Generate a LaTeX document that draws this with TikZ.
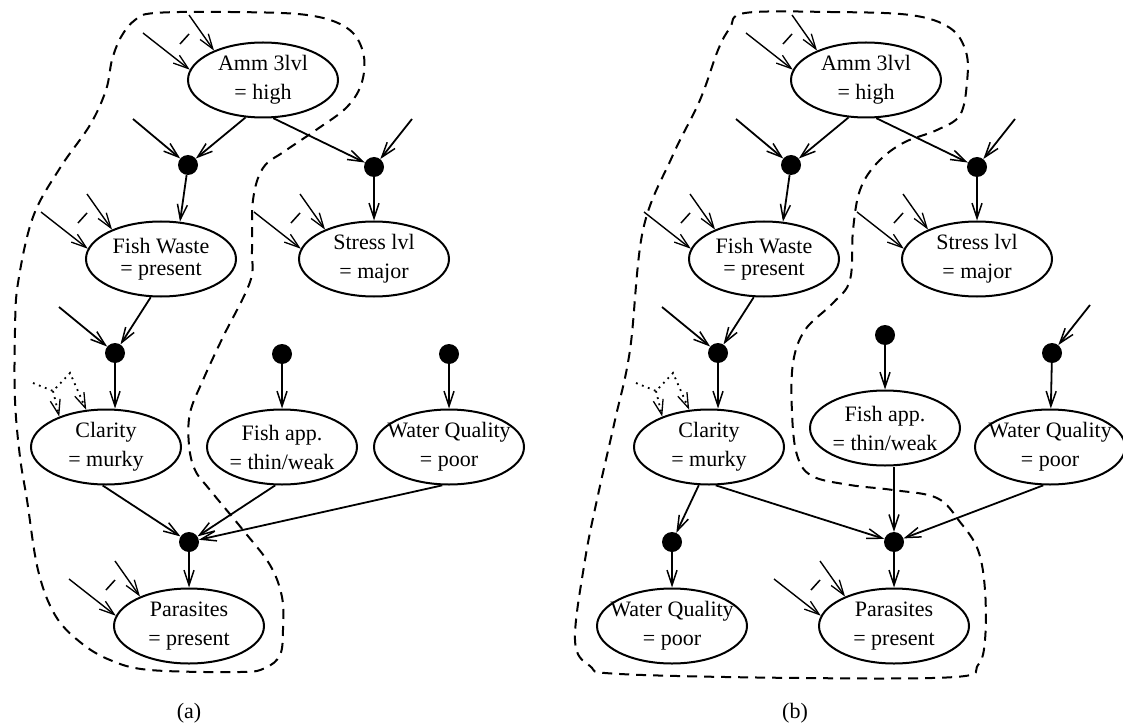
\documentclass[tikz,border=0pt]{standalone}
\usepackage{fontspec}
\setmainfont{Liberation Serif}
\usetikzlibrary{shapes.geometric,arrows.meta}

\tikzset{
  x=1pt, y=-1pt,
  state/.style={draw, ellipse, line width=2pt, minimum width=150pt,
    minimum height=75pt, inner sep=0pt},
  txt/.style={font=\fontsize{22}{29}\selectfont, align=center, inner sep=0pt},
  tighttxt/.style={txt, font=\fontsize{22}{22}\selectfont},
  joint/.style={circle, fill=black, minimum size=20pt, inner sep=0pt},
  link/.style={-{Straight Barb[length=15pt,width=10pt,line width=1.5pt]}, line width=1.8pt},
  stub/.style={-{Straight Barb[length=15pt,width=10pt,line width=1.3pt]}, line width=1.4pt},
  elide/.style={line width=1.5pt},
  faint/.style={-{Straight Barb[length=15pt,width=10pt,line width=1.3pt]},
    line width=1.8pt, dash pattern=on 1.8pt off 4.6pt},
  region/.style={line width=2pt, dash pattern=on 10pt off 7pt},
}

% two incoming parent arrows with an elision mark between them
\newcommand\feeds[1]{%
  \coordinate (#1-u) at ([shift={(-120,-47)}]#1.center);
  \coordinate (#1-v) at ([shift={(-74,-65)}]#1.center);
  \draw[stub] (#1-u) -- (#1.172);
  \draw[stub] (#1-v) -- (#1.149);
  \draw[elide] ([shift={(-83,-36)}]#1.center) -- ([shift={(-74,-46)}]#1.center);
}
% dotted incoming parent arrows
\newcommand\hazyfeeds[1]{%
  \coordinate (#1-s) at ([shift={(-73,-64)}]#1.center);
  \coordinate (#1-m) at ([shift={(-53,-56)}]#1.center);
  \coordinate (#1-t) at ([shift={(-36,-74)}]#1.center);
  \draw[faint] (#1-s) -- (#1-m) -- (#1-t) -- (#1.118);
  \draw[faint] (#1-m) -- (#1.147);
}

\begin{document}
\begin{tikzpicture}
\useasboundingbox (0,0) rectangle (1123,727);

%% ---------------- panel (a) ----------------
\draw[region] plot[smooth cycle, tension=0.6] coordinates {
  (155,13) (230,12) (307,15) (347,28) (363,52) (362,82) (347,107)
  (316,130) (285,151) (263,168) (253,200) (252,250) (250,282)
  (223,337) (203,380) (190,413) (189,445) (195,470) (210,490)
  (243,530) (270,565) (282,597) (283,630) (280,655) (265,668)
  (240,672) (150,670) (110,660) (80,642) (55,615) (38,570)
  (27,500) (20,457) (15,400) (15,330) (18,283) (33,217) (60,168)
  (90,125) (106,90) (112,60) (121,37) (135,20)};

\node[state, label={[txt]center:{Amm 3lvl\\= high}}] (ammA) at (263,80) {};
\node[joint] (j1A) at (188,165) {};
\node[joint] (j2A) at (374,167) {};
\node[state, label={[tighttxt]center:{Fish Waste\\= present}}] (fwA) at (161,259) {};
\node[state, label={[txt]center:{Stress lvl\\= major}}] (strA) at (374,259) {};
\node[joint] (j3A) at (115,353) {};
\node[joint] (jfA) at (282,354) {};
\node[joint] (jwA) at (449,354) {};
\node[state, label={[txt]center:{Clarity\\= murky}}] (clarA) at (106,447) {};
\node[state, label={[txt]center:{Fish app.\\= thin/weak}}] (fishA) at (282,447) {};
\node[state, label={[txt]center:{Water Quality\\= poor}}] (wqA) at (449,447) {};
\node[joint] (jpA) at (189,542) {};
\node[state, label={[txt]center:{Parasites\\= present}}] (parA) at (189,626) {};
\node[txt] (capA) at (189,713) {(a)};

\coordinate (in1A) at (133,119);
\coordinate (in2A) at (412,119);
\coordinate (in3A) at (59,307);

\feeds{ammA}
\feeds{fwA}
\feeds{strA}
\feeds{parA}
\hazyfeeds{clarA}

\draw[link] (in1A) -- (j1A);
\draw[link] (in2A) -- (j2A);
\draw[link] (in3A) -- (j3A);
\draw[link] (ammA.-115) -- (j1A);
\draw[link] (ammA.-75) -- (j2A);
\draw[link] (j1A) -- (fwA.63);
\draw[link] (j2A) -- (strA);
\draw[link] (fwA.-105) -- (j3A);
\draw[link] (j3A) -- (clarA.north -| j3A);
\draw[link] (jfA) -- (fishA);
\draw[link] (jwA) -- (wqA);
\draw[link] (clarA.-95) -- (jpA);
\draw[link] (fishA.-100) -- (jpA);
\draw[link] (wqA.-100) -- (jpA);
\draw[link] (jpA) -- (parA);

%% ---------------- panel (b) ----------------
\draw[region] plot[smooth cycle, tension=0.6] coordinates {
  (745,13) (830,12) (910,15) (950,28) (966,52) (967,82) (960,115)
  (937,130) (903,143) (877,163) (860,190) (853,230) (850,280)
  (833,303) (805,330) (793,363) (792,413) (797,455) (812,476)
  (850,485) (893,490) (937,498) (960,522) (978,550) (985,590)
  (985,640) (978,665) (955,677) (800,678) (620,674) (590,666)
  (575,640) (585,560) (598,495) (615,420) (630,350) (643,230)
  (672,157) (700,100) (718,50) (730,28)};

\node[state, label={[txt]center:{Amm 3lvl\\= high}}] (ammB) at (866,80) {};
\node[joint] (j1B) at (791,165) {};
\node[joint] (j2B) at (977,167) {};
\node[state, label={[tighttxt]center:{Fish Waste\\= present}}] (fwB) at (764,259) {};
\node[state, label={[txt]center:{Stress lvl\\= major}}] (strB) at (977,259) {};
\node[joint] (j3B) at (718,353) {};
\node[joint] (jfB) at (885,335) {};
\node[joint] (jwB) at (1052,353) {};
\node[state, label={[txt]center:{Clarity\\= murky}}] (clarB) at (709,447) {};
\node[state, label={[txt]center:{Fish app.\\= thin/weak}}] (fishB) at (885,428) {};
\node[state, label={[txt]center:{Water Quality\\= poor}}] (wqB) at (1050,447) {};
\node[joint] (jqB) at (672,542) {};
\node[joint] (jpB) at (894,542) {};
\node[state, label={[txt]center:{Water Quality\\= poor}}] (wq2B) at (672,626) {};
\node[state, label={[txt]center:{Parasites\\= present}}] (parB) at (894,626) {};
\node[txt] (capB) at (795,713) {(b)};

\coordinate (in1B) at (736,119);
\coordinate (in2B) at (1015,119);
\coordinate (in3B) at (662,307);
\coordinate (in4B) at (1090,305);

\feeds{ammB}
\feeds{fwB}
\feeds{strB}
\feeds{parB}
\hazyfeeds{clarB}

\draw[link] (in1B) -- (j1B);
\draw[link] (in2B) -- (j2B);
\draw[link] (in3B) -- (j3B);
\draw[link] (in4B) -- (jwB);
\draw[link] (ammB.-115) -- (j1B);
\draw[link] (ammB.-75) -- (j2B);
\draw[link] (j1B) -- (fwB.63);
\draw[link] (j2B) -- (strB);
\draw[link] (fwB.-105) -- (j3B);
\draw[link] (j3B) -- (clarB.north -| j3B);
\draw[link] (jfB) -- (fishB);
\draw[link] (jwB) -- (wqB);
\draw[link] (clarB.-105) -- (jqB);
\draw[link] (clarB.-80) -- (jpB);
\draw[link] (fishB.south -| jpB) -- (jpB);
\draw[link] (wqB.-100) -- (jpB);
\draw[link] (jqB) -- (wq2B);
\draw[link] (jpB) -- (parB);
\end{tikzpicture}
\end{document}
